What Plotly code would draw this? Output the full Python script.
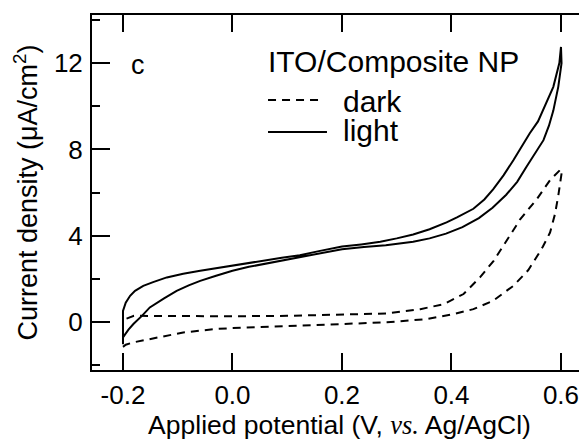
import plotly.graph_objects as go

# ---- data ----
light_v = [-0.2, -0.2, -0.19, -0.181, -0.165, -0.151, -0.125, -0.102, -0.08, -0.059, -0.03, 0.0, 0.03, 0.062,
           0.09, 0.123, 0.16, 0.2, 0.24, 0.28, 0.33, 0.36, 0.39, 0.42, 0.45, 0.475, 0.50, 0.52, 0.537, 0.555,
           0.568, 0.578, 0.586, 0.595, 0.601, 0.6,
           0.597, 0.586, 0.568, 0.558, 0.543, 0.53, 0.513, 0.495, 0.476, 0.46, 0.44, 0.41, 0.391, 0.36, 0.33,
           0.30, 0.27, 0.235, 0.2,
           0.16, 0.123, 0.09, 0.062, 0.03, 0.0, -0.03, -0.059, -0.09, -0.12, -0.145, -0.163, -0.178, -0.187,
           -0.195, -0.2, -0.2]
light_j = [-1.0, -0.71, -0.35, -0.09, 0.3, 0.68, 1.1, 1.45, 1.7, 1.91, 2.15, 2.38, 2.56, 2.72,
           2.86, 2.99, 3.18, 3.38, 3.48, 3.56, 3.72, 3.88, 4.1, 4.4, 4.82, 5.3, 5.9, 6.5, 7.2, 7.9,
           8.43, 9.1, 9.8, 10.9, 12.0, 12.75,
           12.0, 10.9, 9.9, 9.3, 8.75, 8.2, 7.5, 6.8, 6.15, 5.68, 5.25, 4.85, 4.62, 4.3, 4.06,
           3.88, 3.72, 3.6, 3.5,
           3.3, 3.1, 2.98, 2.87, 2.76, 2.64, 2.52, 2.38, 2.24, 2.07, 1.85, 1.68, 1.45, 1.22,
           0.9, 0.52, -1.0]

dark_v = [-0.2, -0.195, -0.181, -0.165, -0.151, -0.12, -0.09, -0.06, -0.03, 0.0, 0.062, 0.123, 0.2, 0.282,
          0.355, 0.404, 0.44, 0.476, 0.513, 0.54, 0.56, 0.567, 0.58, 0.589, 0.595, 0.6, 0.602,
          0.598, 0.58, 0.556, 0.525, 0.52, 0.501, 0.477, 0.452, 0.422, 0.386, 0.343, 0.282, 0.2, 0.1,
          0.0, -0.1, -0.18, -0.2, -0.2]
dark_j = [-1.15, -1.05, -0.94, -0.86, -0.79, -0.6, -0.48, -0.4, -0.32, -0.28, -0.22, -0.17, -0.09, -0.01,
          0.14, 0.37, 0.6, 0.99, 1.68, 2.4, 3.2, 3.5, 4.15, 5.0, 5.85, 6.6, 7.05,
          7.04, 6.58, 5.7, 4.75, 4.54, 3.77, 2.84, 2.07, 1.3, 0.83, 0.6, 0.4, 0.34, 0.29,
          0.27, 0.27, 0.29, 0.1, -1.15]

x_tickvals = [-0.2, 0.0, 0.2, 0.4, 0.6]
x_ticktext = ["-0.2", "0.0", "0.2", "0.4", "0.6"]
y_tickvals = [0, 4, 8, 12]
y_ticktext = ["0", "4", "8", "12"]
y_minor = [-2, 2, 6, 10, 14]

x_range = [-0.2566, 0.6475]
y_range = [-2.22, 14.23]

FONT = "Liberation Sans, Arial, Helvetica, sans-serif"
DASH = "8px,6px"

fig = go.Figure()
fig.add_trace(go.Scatter(x=dark_v, y=dark_j, mode="lines", name="dark",
                         line=dict(color="black", width=2, dash=DASH), showlegend=False))
fig.add_trace(go.Scatter(x=light_v, y=light_j, mode="lines", name="light",
                         line=dict(color="black", width=2), showlegend=False))

# page body has an 8px default margin, so the figure is drawn 8px in from the window edge
fig.update_layout(
    width=579, height=440,
    margin=dict(l=84, r=0, t=7, b=78),
    paper_bgcolor="white", plot_bgcolor="white",
    font=dict(family=FONT, color="black"),
    xaxis=dict(range=x_range, tickvals=x_tickvals, ticktext=x_ticktext,
               ticks="inside", ticklen=17, tickwidth=2, tickcolor="black",
               showline=True, linewidth=2, linecolor="black", mirror="ticks",
               showgrid=False, zeroline=False, tickfont=dict(size=26), ticklabelstandoff=1,
               title=dict(text="Applied potential (V, <i><span style='font-family:Liberation Serif'>vs.</span></i> Ag/AgCl)",
                          font=dict(size=26.5), standoff=0)),
    yaxis=dict(range=y_range, tickvals=y_tickvals, ticktext=y_ticktext,
               ticks="inside", ticklen=18, tickwidth=2, tickcolor="black",
               showline=True, linewidth=2, linecolor="black", mirror=False,
               showgrid=False, zeroline=False, tickfont=dict(size=26), ticklabelstandoff=2,
               minor=dict(tickvals=y_minor, ticks="inside", ticklen=8, tickwidth=2, tickcolor="black"),
               title=dict(text="Current density (μA/cm<sup>2</sup>)", font=dict(size=27), standoff=8)),
    yaxis2=dict(range=y_range, overlaying="y", side="right", anchor="x",
                tickvals=y_tickvals, ticks="inside", ticklen=12, tickwidth=2, tickcolor="black",
                showticklabels=False, showline=False, showgrid=False, zeroline=False,
                minor=dict(tickvals=y_minor, ticks="inside", ticklen=6, tickwidth=2, tickcolor="black")),
)

fig.add_annotation(text="c", xref="paper", yref="paper", x=0.0939, y=0.859,
                   xanchor="center", yanchor="middle", showarrow=False, font=dict(size=27))
fig.add_annotation(text="ITO/Composite NP", xref="paper", yref="paper", x=0.352, y=0.868,
                   xanchor="left", yanchor="middle", showarrow=False, font=dict(size=30))
fig.add_annotation(text="dark", xref="paper", yref="paper", x=0.5031, y=0.7553,
                   xanchor="left", yanchor="middle", showarrow=False, font=dict(size=30))
fig.add_annotation(text="light", xref="paper", yref="paper", x=0.5031, y=0.6752,
                   xanchor="left", yanchor="middle", showarrow=False, font=dict(size=30))

fig.add_shape(type="line", xref="paper", yref="paper", x0=0.3556, x1=0.4586, y0=0.7606, y1=0.7606,
              line=dict(color="black", width=2, dash=DASH))
fig.add_shape(type="line", xref="paper", yref="paper", x0=0.3556, x1=0.4747, y0=0.6704, y1=0.6704,
              line=dict(color="black", width=2))

fig.write_html("out.html")
